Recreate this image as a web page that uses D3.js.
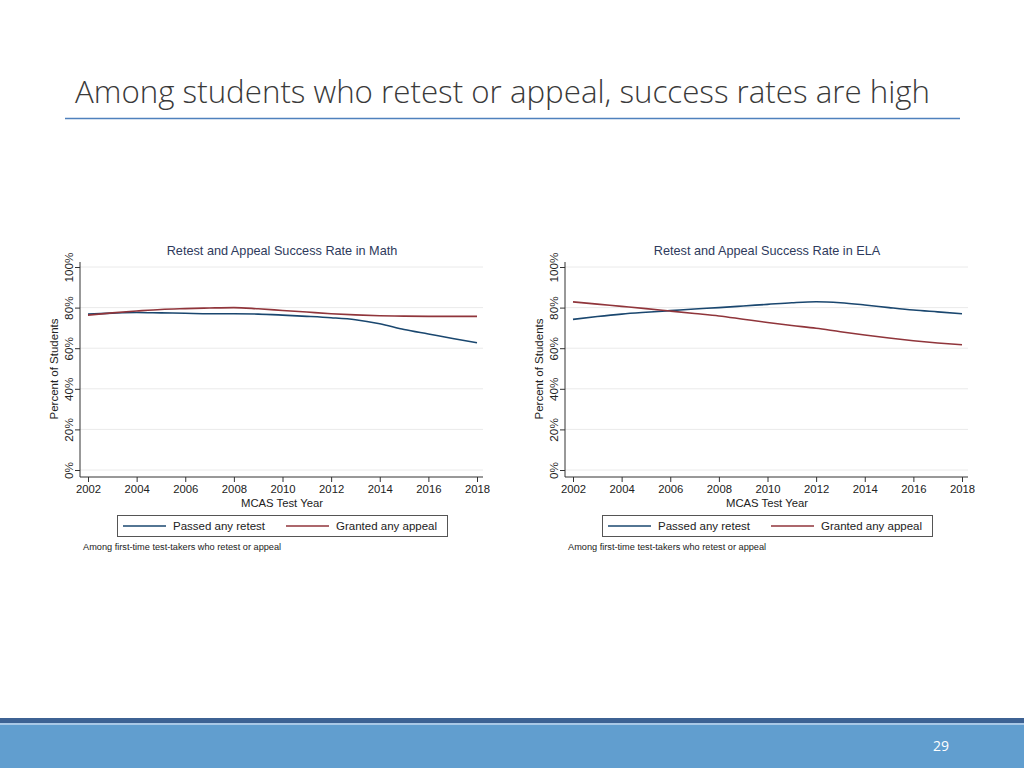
<!DOCTYPE html>
<html><head><meta charset="utf-8">
<script src="https://cdn.jsdelivr.net/npm/d3@7"></script>
<style>body{margin:0;background:#fff}svg{display:block}</style>
</head><body>
<svg id="c" width="1024" height="768"></svg>
<script>
const years = [2002,2003,2004,2005,2006,2007,2008,2009,2010,2011,2012,2013,2014,2015,2016,2017,2018];
const mathPassed = [76.8,77.3,77.6,77.4,77.2,77.0,77.0,76.8,76.3,75.7,75.0,74.0,72.0,69.2,67.0,64.8,62.7];
const mathGranted = [76.3,77.4,78.3,79.1,79.5,79.8,80.0,79.4,78.6,77.8,77.0,76.4,76.0,75.8,75.7,75.7,75.7];
const elaPassed = [74.2,75.6,76.8,77.7,78.5,79.3,80.0,80.8,81.6,82.4,82.9,82.4,81.3,80.0,78.8,77.9,77.0];
const elaGranted = [82.8,81.7,80.6,79.5,78.3,77.1,75.9,74.3,72.7,71.2,69.8,68.1,66.5,65.0,63.7,62.6,61.7];
const xTicks = [2002,2004,2006,2008,2010,2012,2014,2016,2018];
const yTicks = [0,20,40,60,80,100];
const seriesNames = ["Passed any retest","Granted any appeal"];
const colors = ["#1a476f","#90353b"];

const svg = d3.select("#c");
// Slide title
svg.append("text").attr("x",75).attr("y",103).attr("font-family","'Open Sans'").attr("font-weight",300)
  .attr("font-size",32).attr("fill","#3a3a3a").attr("textLength",855).attr("lengthAdjust","spacingAndGlyphs")
  .text("Among students who retest or appeal, success rates are high");
svg.append("line").attr("x1",65).attr("x2",960).attr("y1",118.5).attr("y2",118.5).attr("stroke","#4f81bd").attr("stroke-width",1.5);
// footer
svg.append("rect").attr("x",0).attr("y",718).attr("width",1024).attr("height",5).attr("fill","#3d6293");
svg.append("rect").attr("x",0).attr("y",723).attr("width",1024).attr("height",2).attr("fill","#a9c8e6");
svg.append("rect").attr("x",0).attr("y",725).attr("width",1024).attr("height",43).attr("fill","#619ecf");
svg.append("text").attr("x",941).attr("y",751).attr("text-anchor","middle").attr("font-family","'Open Sans'")
  .attr("font-size",14).attr("fill","#fff").text("29");

function panel(ox, title, passed, granted){
  const g = svg.append("g").attr("transform",`translate(${ox},0)`);
  const x = d3.scaleLinear().domain([2002,2018]).range([88,477]);
  const y = d3.scaleLinear().domain([0,100]).range([470,267]);
  const left=80, right=483, bottom=477, top=262;
  const font="Arial, 'Liberation Sans', sans-serif";
  // gridlines
  g.append("g").selectAll("line").data(yTicks).join("line")
    .attr("x1",left).attr("x2",right).attr("y1",d=>y(d)).attr("y2",d=>y(d))
    .attr("stroke","#eaeaea").attr("stroke-width",1);
  // y axis
  const ya = g.append("g").attr("transform",`translate(${left},0)`)
    .call(d3.axisLeft(y).tickValues(yTicks).tickSize(5).tickFormat(d=>d+"%"));
  ya.select(".domain").remove();
  ya.selectAll(".tick line").attr("stroke","#333");
  ya.selectAll(".tick text").attr("font-family",font).attr("font-size",11.8).attr("fill","#222")
    .attr("transform","rotate(-90)").attr("x",0).attr("y",-7).attr("dy",0).attr("text-anchor","middle");
  g.append("line").attr("x1",left).attr("x2",left).attr("y1",top).attr("y2",bottom).attr("stroke","#333");
  // x axis
  const xa = g.append("g").attr("transform",`translate(0,${bottom})`)
    .call(d3.axisBottom(x).tickValues(xTicks).tickSize(5).tickFormat(d3.format("d")));
  xa.select(".domain").remove();
  xa.selectAll(".tick line").attr("stroke","#333");
  xa.selectAll(".tick text").attr("font-family",font).attr("font-size",11.3).attr("fill","#222").attr("y",8);
  g.append("line").attr("x1",left).attr("x2",right).attr("y1",bottom).attr("y2",bottom).attr("stroke","#333");
  // labels
  g.append("text").attr("x",282).attr("y",255).attr("text-anchor","middle").attr("font-family",font)
    .attr("font-size",12.7).attr("fill","#2e3a5c").text(title);
  g.append("text").attr("transform","translate(58,369) rotate(-90)").attr("text-anchor","middle")
    .attr("font-family",font).attr("font-size",11.5).attr("fill","#222").text("Percent of Students");
  g.append("text").attr("x",282).attr("y",507).attr("text-anchor","middle").attr("font-family",font)
    .attr("font-size",11.3).attr("fill","#222").text("MCAS Test Year");
  // lines
  const line = d3.line().x((d,i)=>x(years[i])).y(d=>y(d)).curve(d3.curveMonotoneX);
  [passed,granted].forEach((s,k)=>{
    g.append("path").datum(s).attr("d",line).attr("fill","none").attr("stroke",colors[k]).attr("stroke-width",1.6);
  });
  // legend
  g.append("rect").attr("x",117.5).attr("y",515.5).attr("width",330).attr("height",21)
    .attr("fill","#fff").attr("stroke","#555").attr("stroke-width",1);
  const lx=[123,286];
  seriesNames.forEach((n,k)=>{
    g.append("line").attr("x1",lx[k]).attr("x2",lx[k]+43).attr("y1",526).attr("y2",526).attr("stroke",colors[k]).attr("stroke-width",1.5);
    g.append("text").attr("x",lx[k]+50).attr("y",530).attr("font-family",font).attr("font-size",11.5).attr("fill","#222").text(n);
  });
  g.append("text").attr("x",83).attr("y",550).attr("font-family",font).attr("font-size",9.2).attr("fill","#222")
    .text("Among first-time test-takers who retest or appeal");
}
panel(0,"Retest and Appeal Success Rate in Math",mathPassed,mathGranted);
panel(485,"Retest and Appeal Success Rate in ELA",elaPassed,elaGranted);
</script>
</body></html>
